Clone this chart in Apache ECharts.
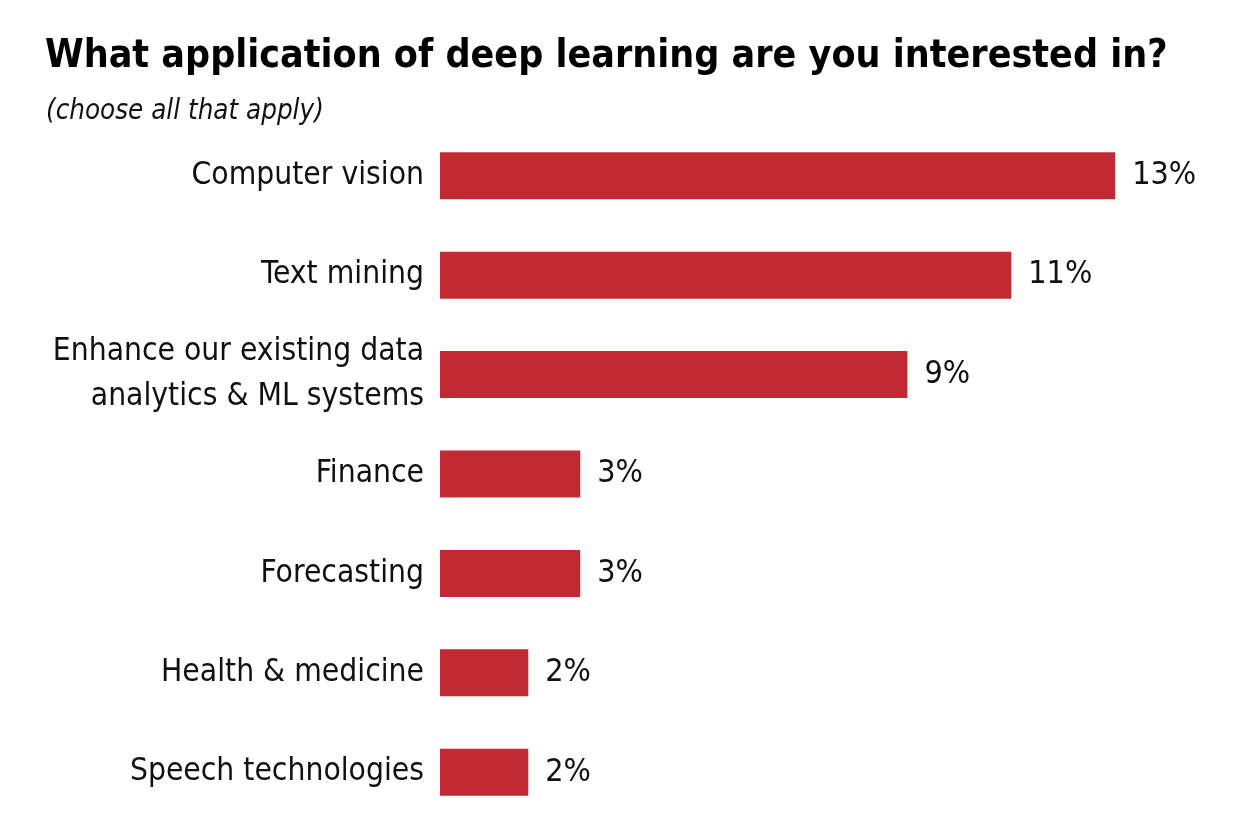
<!DOCTYPE html>
<html>
<head>
<meta charset="utf-8">
<script src="https://cdn.jsdelivr.net/npm/echarts@6/dist/echarts.min.js"></script>
<style>
html,body{margin:0;padding:0;background:#fff;}
#chart{width:1248px;height:840px;}
</style>
</head>
<body>
<div id="chart"></div>
<script>
const categories = [
  "Computer vision",
  "Text mining",
  "Enhance our existing data\nanalytics & ML systems",
  "Finance",
  "Forecasting",
  "Health & medicine",
  "Speech technologies"
];
const values = [13, 11, 9, 2.7, 2.7, 1.7, 1.7];
const valueLabels = ["13%", "11%", "9%", "3%", "3%", "2%", "2%"];

const FONT = '"Liberation Sans Narrow", "DejaVu Sans Condensed", "Roboto Condensed", sans-serif';

const chart = echarts.init(document.getElementById('chart'), null, {renderer: 'canvas'});
chart.setOption({
  animation: false,
  backgroundColor: '#ffffff',
  title: [
    {
      text: 'What application of deep learning are you interested in?',
      left: 40, top: 32,
      textStyle: {fontFamily: FONT, fontWeight: 'bold', fontSize: 39, color: '#000'}
    },
    {
      text: '(choose all that apply)',
      left: 41, top: 93,
      textStyle: {fontFamily: FONT, fontStyle: 'italic', fontWeight: 'normal', fontSize: 27.5, color: '#111'}
    }
  ],
  grid: {left: 440, right: 29, top: 126, bottom: 18, containLabel: false},
  xAxis: {
    type: 'value', min: 0, max: 15, show: false
  },
  yAxis: {
    type: 'category',
    data: categories,
    inverse: true,
    axisLine: {show: false},
    axisTick: {show: false},
    splitLine: {show: false},
    axisLabel: {
      margin: 16,
      fontFamily: FONT, fontSize: 31.5, color: '#111', lineHeight: 45, align: 'right'
    }
  },
  series: [{
    type: 'bar',
    data: values,
    barWidth: 47,
    itemStyle: {color: '#C12A33'},
    label: {
      show: true, position: 'right', distance: 17,
      fontFamily: FONT, fontSize: 32, color: '#111',
      formatter: p => valueLabels[p.dataIndex]
    }
  }]
});
</script>
</body>
</html>
